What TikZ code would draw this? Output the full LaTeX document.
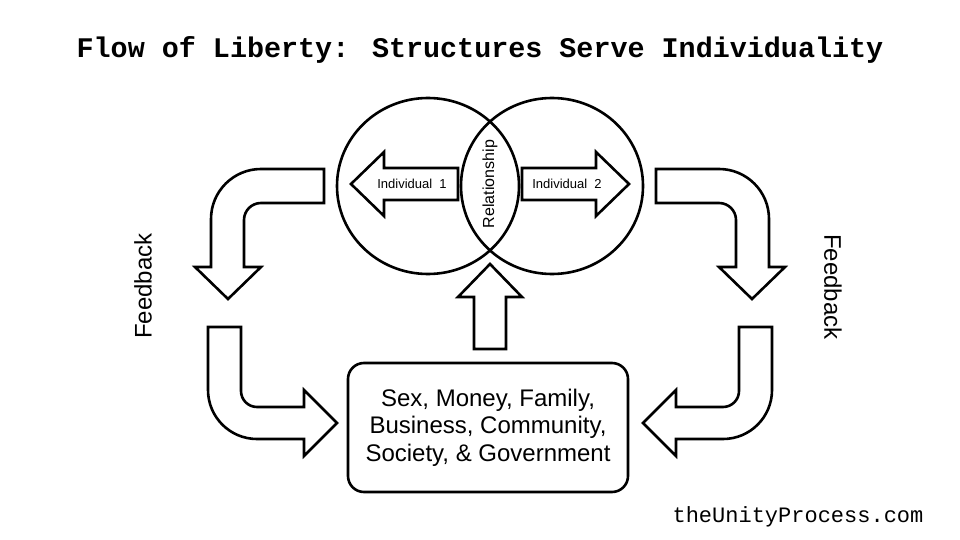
\documentclass[tikz,border=0pt]{standalone}
\usepackage{fontspec}
\setmainfont{Liberation Sans}
\newfontfamily\typewriter{Liberation Mono}
\usetikzlibrary{shapes.geometric}
\tikzset{%
    outline/.style={line width=2.6pt, line join=miter},
    ring/.style={outline, draw, ellipse, minimum width=182pt, minimum height=176pt, inner sep=0pt},
    words/.style={inner sep=0pt, font=\fontsize{#1}{#1}\selectfont},
    words/.default=24
}
\newcommand\FeedbackPair{%
    \draw[outline] (324,169) -- (261,169) arc[start angle=270, end angle=180, radius=50]
        -- (211,267) -- (195,267) -- (228,299) -- (261,267) -- (244,267)
        -- (244,220) arc[start angle=180, end angle=270, radius=17] -- (324,203) -- cycle;
    \draw[outline] (208,327) -- (208,390) arc[start angle=180, end angle=90, radius=49]
        -- (304,439) -- (304,456) -- (337,423) -- (304,390) -- (304,407)
        -- (257,407) arc[start angle=90, end angle=180, radius=16] -- (241,327) -- cycle
}

\begin{document}
\begin{tikzpicture}[x=1pt, y=-1pt]
      \useasboundingbox (0,0) rectangle (960,540);

      \node[font=\typewriter\bfseries\fontsize{28.4}{28.4}\selectfont] (title) at (480,50) {Flow of Liberty: Structures Serve Individuality};
      \node[font=\typewriter\fontsize{22}{22}\selectfont] (site) at (798,517) {theUnityProcess.com};

      \node[ring] (leftring) at (428,186) {};
      \node[ring] (rightring) at (552,186) {};

      \draw[outline] (458,168) -- (384,168) -- (384,152) -- (351,184) -- (384,216) -- (384,200) -- (458,200) -- cycle;
      \draw[outline] (522,168) -- (596,168) -- (596,152) -- (629,184) -- (596,216) -- (596,200) -- (522,200) -- cycle;
      \node[words=13] (ind1) at (412,184) {Individual~~1};
      \node[words=13] (ind2) at (567,184) {Individual~~2};
      \node[words=16, rotate=90] (rel) at (490,184) {Relationship};

      \draw[outline] (474,349) -- (474,297) -- (458,297) -- (490,264) -- (522,297) -- (506,297) -- (506,349) -- cycle;

      \node[outline, draw, rounded corners=16pt, minimum width=280pt, minimum height=129pt, align=center,
            font=\fontsize{24}{27.5}\selectfont] (society) at (488,427.5)
            {Sex, Money, Family,\\Business, Community,\\Society, \& Government};

      \FeedbackPair;
      \begin{scope}[xshift=980pt, xscale=-1]
          \FeedbackPair;
      \end{scope}

      \node[words, rotate=90] (fbleft) at (143,286) {Feedback};
      \node[words, rotate=-90] (fbright) at (833,287) {Feedback};
    \end{tikzpicture}
\end{document}
